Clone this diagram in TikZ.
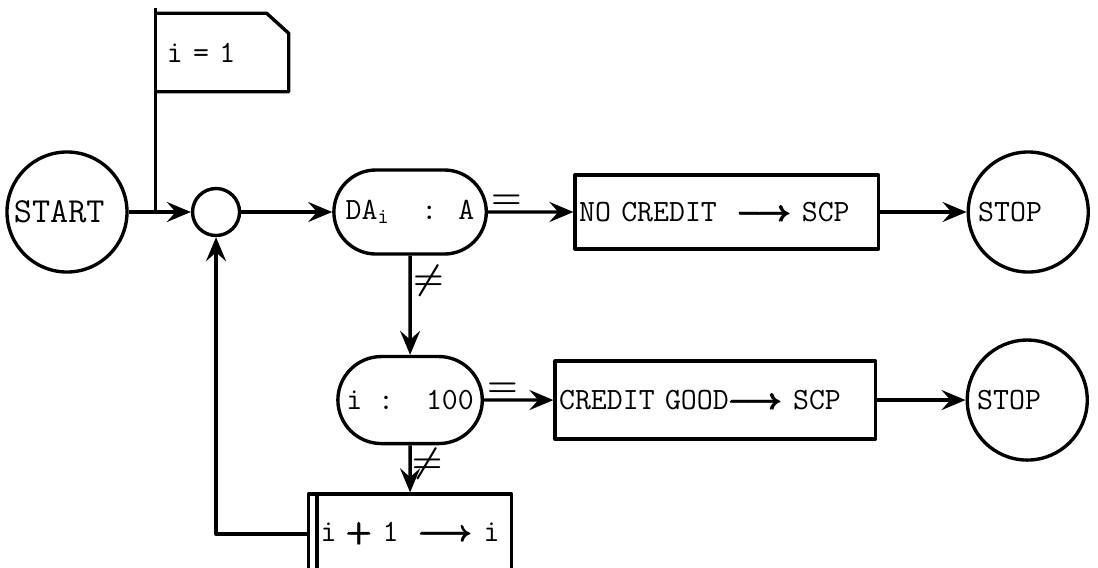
\documentclass[tikz,border=0pt]{standalone}
\usepackage{amsmath}
\usetikzlibrary{shapes.misc,arrows.meta,positioning}

\begin{document}
\begin{tikzpicture}[x=0.025cm, y=-0.025cm, line width=2.4pt, line join=round,
    every node/.style={font=\ttfamily\fontsize{22}{24}\selectfont},
    terminal/.style={circle, draw, minimum size=3cm, inner sep=0pt, align=left},
    joint/.style={circle, draw, minimum size=1.175cm, inner sep=0pt},
    test/.style={rounded rectangle, draw, minimum height=2.1cm, inner sep=2pt},
    process/.style={rectangle, draw, minimum height=1.85cm, inner sep=0.1cm, align=left},
    flagbox/.style={rectangle, minimum width=3.25cm, minimum height=1.875cm, text width=2.75cm, inner sep=0.25cm, align=left},
    flow/.style={-{Stealth[length=0.6cm, width=0.5cm, inset=0.22cm]}},
    cond/.style={font=\fontsize{26}{26}\selectfont\boldmath, inner sep=1pt}]
    \useasboundingbox (0,0) rectangle (1098,567);

    \node [terminal, text width=2.65cm, font=\ttfamily\fontsize{25}{27}\selectfont] (start) at (67,212) {START};
    \node [flagbox] (init) at (222,52.5) {i = 1};
    \node [joint, node distance=3.725cm, right of=start] (join) {};
    \node [test, minimum width=3.95cm, node distance=4.85cm, right of=join] (cmpda) {DA\textsubscript{i}\ \ : A};
    \node [process, text width=7.375cm, node distance=7.9125cm, right of=cmpda] (nocredit) {NO CREDIT\ \ {\boldmath$\pmb{\longrightarrow}$}\ SCP};
    \node [terminal, text width=2.5cm, node distance=7.5375cm, right of=nocredit] (stopa) {STOP};
    \node [test, minimum width=3.75cm, minimum height=2.175cm, node distance=4.7cm, below of=cmpda] (cmpi) {i :\ \ 100};
    \node [process, text width=7.8cm, minimum height=1.95cm, node distance=7.625cm, right of=cmpi] (creditok) {CREDIT GOOD{\boldmath$\pmb{\longrightarrow}$}\ SCP};
    \node [terminal, text width=2.5cm, node distance=7.8cm, right of=creditok] (stopb) {STOP};
    \node [process, text width=4.475cm, inner sep=0.3cm, minimum height=2cm, node distance=3.35cm, below of=cmpi] (incr) {i {\boldmath$\pmb{+}$} 1 \ {\boldmath$\pmb{\longrightarrow}$}\ i};

    % initialisation flag on its pole
    \draw ([yshift=0.125cm]init.north west) -- (init.north west |- start.east);
    \draw (init.north west) -- ([xshift=-0.55cm]init.north east) -- ([yshift=-0.5cm]init.north east) -- (init.south east) -- (init.south west);
    \draw ([xshift=0.25cm]incr.north west) -- ([xshift=0.25cm]incr.south west);

    \draw [flow] (start) -- (join);
    \draw [flow] (join) -- (cmpda);
    \draw [flow] (cmpda) -- node[cond, above right, pos=0] {$=$} (nocredit);
    \draw [flow] (nocredit) -- (stopa);
    \draw [flow] (cmpda) -- node[cond, right, pos=0.25] {$\neq$} (cmpi);
    \draw [flow] (cmpi) -- node[cond, above right, pos=0] {$=$} (creditok);
    \draw [flow] (creditok) -- (stopb);
    \draw [flow] (cmpi) -- node[cond, right, pos=0.4, inner sep=0pt] {$\neq$} (incr);
    \draw [flow] (incr.west) -| (join.south);
\end{tikzpicture}
\end{document}
